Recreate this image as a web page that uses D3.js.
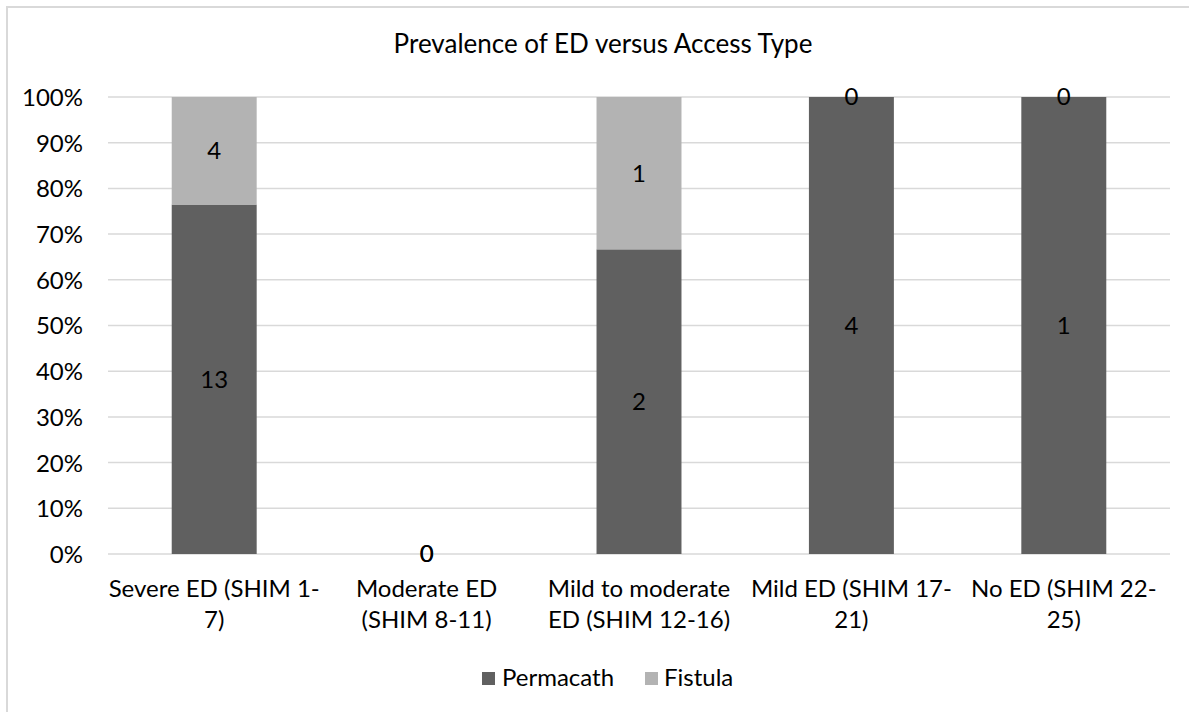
<!DOCTYPE html>
<html><head><meta charset="utf-8">
<script src="https://cdn.jsdelivr.net/npm/d3@7"></script>
<style>
body{margin:0;background:#fff}
svg{display:block;font-family:Lato,"Carlito",sans-serif}
</style>
</head><body><svg id="chart" width="1189" height="712"></svg>
<script>
const chartTitle = "Prevalence of ED versus Access Type";
const categories = ["Severe ED (SHIM 1-7)", "Moderate ED (SHIM 8-11)", "Mild to moderate ED (SHIM 12-16)", "Mild ED (SHIM 17-21)", "No ED (SHIM 22-25)"];
const categoryLines = [["Severe ED (SHIM 1-", "7)"], ["Moderate ED", "(SHIM 8-11)"], ["Mild to moderate", "ED (SHIM 12-16)"], ["Mild ED (SHIM 17-", "21)"], ["No ED (SHIM 22-", "25)"]];
const seriesNames = ["Permacath", "Fistula"];
const permacath = [13, 0, 2, 4, 1];
const fistula = [4, 0, 1, 0, 0];
const yTicks = [0, 0.1, 0.2, 0.3, 0.4, 0.5, 0.6, 0.7, 0.8, 0.9, 1];
const seriesColors = ["#606060", "#b3b3b3"];

const W = 1189, H = 712;
const svg = d3.select("#chart");
svg.append("rect").attr("width", W).attr("height", H).attr("fill", "#fff");
svg.append("rect").attr("x", 7).attr("y", 7).attr("width", W + 20).attr("height", H + 20)
  .attr("fill", "none").attr("stroke", "#d9d9d9").attr("stroke-width", 2);

const plotL = 108, plotR = 1170, plotT = 97, plotB = 554;
const fs = 24;

const x = d3.scaleBand().domain(categories).range([plotL, plotR]).paddingInner(0.6).paddingOuter(0.3);
const y = d3.scaleLinear().domain([0, 1]).range([plotB, plotT]);

// title
svg.append("text").attr("x", 603).attr("y", 44).attr("text-anchor", "middle")
  .attr("dy", "0.35em").attr("font-size", 26).attr("fill", "#000").text(chartTitle);

// grid
svg.append("g").selectAll("line").data(yTicks).join("line")
  .attr("x1", plotL).attr("x2", plotR).attr("y1", d => y(d)).attr("y2", d => y(d))
  .attr("stroke", "#d9d9d9").attr("stroke-width", 1.5);

// y axis
const yAxis = d3.axisLeft(y).tickValues(yTicks).tickFormat(d3.format(".0%")).tickSize(0).tickPadding(0);
const gy = svg.append("g").attr("transform", "translate(83,0)").call(yAxis);
gy.select(".domain").remove();
gy.selectAll("text").attr("font-size", fs).attr("font-family", "Lato").attr("fill", "#000").attr("dy", "0.35em");

// data: 100% stacked
const rows = categories.map((c, i) => ({ cat: c, Permacath: permacath[i], Fistula: fistula[i] }));
const stacked = d3.stack().keys(seriesNames).offset(d3.stackOffsetExpand)(rows);

const gBars = svg.append("g");
stacked.forEach((s, si) => {
  gBars.append("g").selectAll("rect").data(s).join("rect")
    .attr("x", d => x(d.data.cat)).attr("width", x.bandwidth())
    .attr("y", d => y(d[1])).attr("height", d => Math.max(0, y(d[0]) - y(d[1])))
    .attr("fill", seriesColors[si]);
});
stacked.forEach((s, si) => {
  gBars.append("g").selectAll("text").data(s).join("text")
    .attr("x", d => x(d.data.cat) + x.bandwidth() / 2)
    .attr("y", d => y((d[0] + d[1]) / 2))
    .attr("dy", "0.35em")
    .attr("text-anchor", "middle").attr("font-size", fs).attr("fill", "#000")
    .text(d => d.data[s.key]);
});

// x labels
const gx = svg.append("g");
categories.forEach((c, i) => {
  const cx = x(c) + x.bandwidth() / 2;
  const t = gx.append("text").attr("text-anchor", "middle").attr("font-size", fs).attr("fill", "#000");
  categoryLines[i].forEach((ln, k) => {
    t.append("tspan").attr("x", cx).attr("y", 597 + k * 31).text(ln);
  });
});

// legend
const lg = svg.append("g");
const legendPos = [[482, 502], [645, 664]];
seriesNames.forEach((n, i) => {
  lg.append("rect").attr("x", legendPos[i][0]).attr("y", 672).attr("width", 13).attr("height", 13).attr("fill", seriesColors[i]);
  lg.append("text").attr("x", legendPos[i][1]).attr("y", 686).attr("font-size", fs).attr("fill", "#000").text(n);
});
</script>
</body></html>
